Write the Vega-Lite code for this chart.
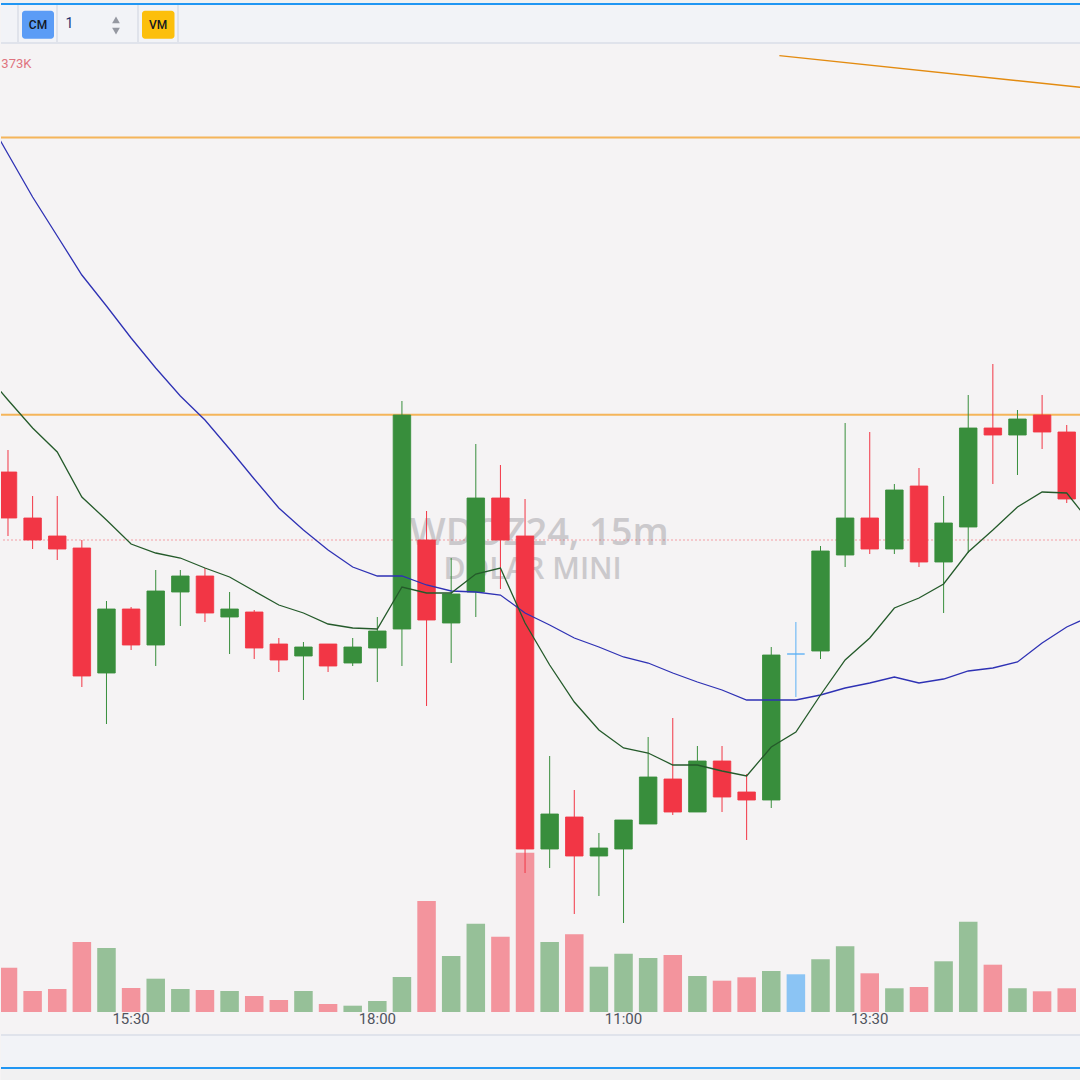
{
  "$schema": "https://vega.github.io/schema/vega-lite/v6.json",
  "padding": 0,
  "spacing": 0,
  "bounds": "flush",
  "background": "#f5f3f4",
  "config": {"view": {"stroke": null}, "concat": {"spacing": 0}, "scale": {"continuousPadding": 0}},
  "datasets": {
    "candles": [
      {"i":0,"o":5857.2,"h":5859.4,"l":5850.8,"c":5852.6,"v":44300},
      {"i":1,"o":5852.6,"h":5854.8,"l":5849.5,"c":5850.4,"v":21000},
      {"i":2,"o":5850.8,"h":5854.8,"l":5848.4,"c":5849.5,"v":23000},
      {"i":3,"o":5849.6,"h":5850.4,"l":5835.7,"c":5836.8,"v":70000},
      {"i":4,"o":5837.1,"h":5844.3,"l":5832.0,"c":5843.5,"v":64000},
      {"i":5,"o":5843.5,"h":5843.7,"l":5839.4,"c":5839.9,"v":24000},
      {"i":6,"o":5839.9,"h":5847.4,"l":5837.8,"c":5845.3,"v":33300},
      {"i":7,"o":5845.2,"h":5847.4,"l":5841.8,"c":5846.8,"v":23000},
      {"i":8,"o":5846.8,"h":5847.6,"l":5842.2,"c":5843.1,"v":22000},
      {"i":9,"o":5842.7,"h":5845.2,"l":5839.0,"c":5843.5,"v":21000},
      {"i":10,"o":5843.2,"h":5843.4,"l":5838.5,"c":5839.6,"v":16000},
      {"i":11,"o":5840.0,"h":5840.6,"l":5837.2,"c":5838.4,"v":12000},
      {"i":12,"o":5838.8,"h":5840.2,"l":5834.4,"c":5839.7,"v":21000},
      {"i":13,"o":5840.0,"h":5840.0,"l":5837.2,"c":5837.8,"v":8000},
      {"i":14,"o":5838.1,"h":5840.6,"l":5837.8,"c":5839.7,"v":6300},
      {"i":15,"o":5839.6,"h":5842.7,"l":5836.2,"c":5841.3,"v":11000},
      {"i":16,"o":5841.5,"h":5864.3,"l":5837.8,"c":5862.9,"v":35000},
      {"i":17,"o":5850.4,"h":5853.3,"l":5833.8,"c":5842.4,"v":111000},
      {"i":18,"o":5842.1,"h":5848.6,"l":5838.1,"c":5845.0,"v":56000},
      {"i":19,"o":5845.2,"h":5860.0,"l":5842.7,"c":5854.6,"v":88300},
      {"i":20,"o":5854.6,"h":5857.9,"l":5845.5,"c":5850.4,"v":75300},
      {"i":21,"o":5850.8,"h":5854.5,"l":5817.1,"c":5819.5,"v":159300},
      {"i":22,"o":5819.5,"h":5828.8,"l":5817.6,"c":5823.0,"v":70000},
      {"i":23,"o":5822.7,"h":5825.4,"l":5813.0,"c":5818.8,"v":77700},
      {"i":24,"o":5818.8,"h":5821.1,"l":5814.8,"c":5819.6,"v":45300},
      {"i":25,"o":5819.5,"h":5822.4,"l":5812.1,"c":5822.4,"v":58300},
      {"i":26,"o":5822.0,"h":5830.7,"l":5822.0,"c":5826.7,"v":54000},
      {"i":27,"o":5826.5,"h":5832.6,"l":5822.9,"c":5823.2,"v":57000},
      {"i":28,"o":5823.2,"h":5829.8,"l":5823.2,"c":5828.3,"v":36000},
      {"i":29,"o":5828.3,"h":5829.8,"l":5823.2,"c":5824.7,"v":31300},
      {"i":30,"o":5825.2,"h":5827.0,"l":5820.4,"c":5824.4,"v":34700},
      {"i":31,"o":5824.4,"h":5839.7,"l":5823.6,"c":5838.9,"v":41000},
      {"i":32,"o":5839.0,"h":5842.2,"l":5834.7,"c":5839.0,"v":37700},
      {"i":33,"o":5839.3,"h":5849.8,"l":5838.5,"c":5849.3,"v":52700},
      {"i":34,"o":5848.9,"h":5862.1,"l":5847.7,"c":5852.6,"v":65700},
      {"i":35,"o":5852.6,"h":5861.2,"l":5849.0,"c":5849.5,"v":38700},
      {"i":36,"o":5849.5,"h":5856.0,"l":5849.0,"c":5855.4,"v":23700},
      {"i":37,"o":5855.8,"h":5857.6,"l":5847.7,"c":5848.2,"v":25000},
      {"i":38,"o":5848.2,"h":5854.8,"l":5843.1,"c":5852.1,"v":50700},
      {"i":39,"o":5851.7,"h":5864.9,"l":5849.1,"c":5861.6,"v":90300},
      {"i":40,"o":5861.6,"h":5868.0,"l":5856.0,"c":5860.9,"v":47300},
      {"i":41,"o":5860.9,"h":5863.4,"l":5856.9,"c":5862.5,"v":23700},
      {"i":42,"o":5862.9,"h":5864.9,"l":5859.5,"c":5861.2,"v":20700},
      {"i":43,"o":5861.2,"h":5861.9,"l":5854.1,"c":5854.5,"v":23700}
    ],
    "ma": [
      {"i":-1,"f":5867.3,"s":5893.3},{"i":0,"f":5864.4,"s":5889.0},{"i":1,"f":5861.6,"s":5884.7},
      {"i":2,"f":5859.2,"s":5880.8},{"i":3,"f":5854.7,"s":5876.9},{"i":4,"f":5852.4,"s":5873.8},
      {"i":5,"f":5850.0,"s":5870.6},{"i":6,"f":5849.1,"s":5867.6},{"i":7,"f":5848.6,"s":5864.8},
      {"i":8,"f":5847.6,"s":5862.4},{"i":9,"f":5846.7,"s":5859.5},{"i":10,"f":5845.3,"s":5856.5},
      {"i":11,"f":5843.9,"s":5853.6},{"i":12,"f":5843.1,"s":5851.4},{"i":13,"f":5842.0,"s":5849.4},
      {"i":14,"f":5841.6,"s":5847.7},{"i":15,"f":5841.5,"s":5846.8},{"i":16,"f":5845.7,"s":5846.8},
      {"i":17,"f":5845.1,"s":5845.9},{"i":18,"f":5845.1,"s":5845.3},{"i":19,"f":5847.0,"s":5845.2},
      {"i":20,"f":5847.6,"s":5844.9},{"i":21,"f":5842.1,"s":5843.1},{"i":22,"f":5837.9,"s":5841.9},
      {"i":23,"f":5834.2,"s":5840.6},{"i":24,"f":5831.4,"s":5839.7},{"i":25,"f":5829.6,"s":5838.7},
      {"i":26,"f":5829.1,"s":5838.1},{"i":27,"f":5827.9,"s":5837.1},{"i":28,"f":5827.9,"s":5836.2},
      {"i":29,"f":5827.3,"s":5835.4},{"i":30,"f":5826.8,"s":5834.4},{"i":31,"f":5829.7,"s":5834.4},
      {"i":32,"f":5831.2,"s":5834.4},{"i":33,"f":5834.9,"s":5834.9},{"i":34,"f":5838.4,"s":5835.6},
      {"i":35,"f":5840.6,"s":5836.1},{"i":36,"f":5843.6,"s":5836.7},{"i":37,"f":5844.6,"s":5836.1},
      {"i":38,"f":5846.0,"s":5836.5},{"i":39,"f":5849.2,"s":5837.3},{"i":40,"f":5851.4,"s":5837.6},
      {"i":41,"f":5853.7,"s":5838.2},{"i":42,"f":5855.2,"s":5840.1},{"i":43,"f":5855.1,"s":5841.7},
      {"i":44,"f":5852.0,"s":5842.8}
    ],
    "levels": [{"p":5890.65},{"p":5862.93}],
    "lastline": [{"p":5850.4}],
    "trend": [{"i":31.33,"p":5898.83},{"i":45,"p":5895.3}],
    "ticks": [{"i":5,"label":"15:30"},{"i":15,"label":"18:00"},{"i":25,"label":"11:00"},{"i":35,"label":"13:30"}],
    "tbsep": [{"sx":17},{"sx":56},{"sx":137},{"sx":177}],
    "buttons": [
      {"b":"CM","x0":21,"x1":53,"y0":5.7,"y1":33.7,"xc":37,"yc":19.7},
      {"b":"VM","x0":141,"x1":173.5,"y0":5.7,"y1":33.7,"xc":157.2,"yc":19.7}
    ]
  },
  "vconcat": [
    {"width":1080,"height":3,"view":{"fill":"#f1f1f2","stroke":null},"data":{"values":[]},"mark":"rect","encoding":{}},
    {"width":1080,"height":2,"view":{"fill":"#2196f3","stroke":null},"data":{"values":[]},"mark":"rect","encoding":{}},
    {
      "width":1080,"height":37,"view":{"fill":"#f2f3f7","stroke":null},
      "layer":[
        {"data":{"name":"tbsep"},"mark":{"type":"rule","color":"#e0e3eb","strokeWidth":2},
         "encoding":{"x":{"field":"sx","type":"quantitative","scale":{"domain":[0,1080],"nice":false,"zero":false,"padding":0},"axis":null}}},
        {"data":{"name":"buttons"},"mark":{"type":"rect","cornerRadius":3},
         "encoding":{
           "x":{"field":"x0","type":"quantitative","scale":{"domain":[0,1080],"nice":false,"zero":false,"padding":0},"axis":null},
           "x2":{"field":"x1"},
           "y":{"field":"y0","type":"quantitative","scale":{"domain":[0,37],"reverse":true,"nice":false,"zero":false,"padding":0},"axis":null},
           "y2":{"field":"y1"},
           "color":{"field":"b","type":"nominal","scale":{"domain":["CM","VM"],"range":["#5b9cf6","#fcbf0c"]},"legend":null}}},
        {"data":{"name":"buttons"},"mark":{"type":"text","font":"Roboto","fontSize":12,"fontWeight":500,"color":"#131722","align":"center","baseline":"middle"},
         "encoding":{
           "x":{"field":"xc","type":"quantitative","scale":{"domain":[0,1080],"nice":false,"zero":false,"padding":0},"axis":null},
           "y":{"field":"yc","type":"quantitative","scale":{"domain":[0,37],"reverse":true,"nice":false,"zero":false,"padding":0},"axis":null},
           "text":{"field":"b"}}},
        {"data":{"values":[{"t":"1","x":68.5,"y":18.7}]},"mark":{"type":"text","font":"Roboto","fontSize":14,"color":"#1f3272","align":"center","baseline":"middle"},
         "encoding":{
           "x":{"field":"x","type":"quantitative","scale":{"domain":[0,1080],"nice":false,"zero":false,"padding":0},"axis":null},
           "y":{"field":"y","type":"quantitative","scale":{"domain":[0,37],"reverse":true,"nice":false,"zero":false,"padding":0},"axis":null},
           "text":{"field":"t"}}},
        {"data":{"values":[{"x":115,"y":14.8,"s":"triangle-up"},{"x":115,"y":26.2,"s":"triangle-down"}]},
         "mark":{"type":"point","filled":true,"color":"#9598a1","opacity":1,"size":60},
         "encoding":{
           "x":{"field":"x","type":"quantitative","scale":{"domain":[0,1080],"nice":false,"zero":false,"padding":0},"axis":null},
           "y":{"field":"y","type":"quantitative","scale":{"domain":[0,37],"reverse":true,"nice":false,"zero":false,"padding":0},"axis":null},
           "shape":{"field":"s","type":"nominal","scale":null}}}
      ]
    },
    {"width":1080,"height":2,"view":{"fill":"#e0e3eb","stroke":null},"data":{"values":[]},"mark":"rect","encoding":{}},
    {
      "width":1080,"height":968,"view":{"fill":"#f5f3f4","stroke":null},
      "resolve":{"scale":{"y":"independent"}},
      "layer":[
        {"data":{"name":"candles"},"mark":{"type":"bar","width":18.5,"opacity":0.5,"clip":true},
         "encoding":{
           "x":{"field":"i","type":"quantitative","scale":{"domain":[-0.284,43.58],"nice":false,"zero":false,"padding":0},"axis":null},
           "y":{"field":"v","type":"quantitative","scale":{"domain":[0,968000],"nice":false,"zero":true,"padding":0},"axis":null},
           "color":{"condition":[{"test":"datum.c > datum.o","value":"#388e3c"},{"test":"datum.c < datum.o","value":"#f23645"}],"value":"#2196f3"}}},
        {
          "layer":[
            {"data":{"values":[{"i":21.58,"p":5849.9,"t":"WDOZ24, 15m"}]},
             "mark":{"type":"text","font":"Open Sans","fontSize":38,"fontWeight":600,"color":"#cbc9cc","align":"center","baseline":"alphabetic"},
             "encoding":{
               "x":{"field":"i","type":"quantitative","scale":{"domain":[-0.284,43.58],"nice":false,"zero":false,"padding":0},"axis":null},
               "y":{"field":"p","type":"quantitative","scale":{"domain":[5803.2,5900],"nice":false,"zero":false,"padding":0},"axis":null},
               "text":{"field":"t"}}},
            {"data":{"values":[{"i":21.31,"p":5846.5,"t":"DOLAR MINI"}]},
             "mark":{"type":"text","font":"Open Sans","fontSize":30,"fontWeight":600,"color":"#cbc9cc","align":"center","baseline":"alphabetic"},
             "encoding":{
               "x":{"field":"i","type":"quantitative","scale":{"domain":[-0.284,43.58],"nice":false,"zero":false,"padding":0},"axis":null},
               "y":{"field":"p","type":"quantitative","scale":{"domain":[5803.2,5900],"nice":false,"zero":false,"padding":0},"axis":null},
               "text":{"field":"t"}}},
            {"data":{"name":"lastline"},"mark":{"type":"rule","color":"#f23645","opacity":0.45,"strokeWidth":1,"strokeDash":[2,2]},
             "encoding":{"y":{"field":"p","type":"quantitative","scale":{"domain":[5803.2,5900],"nice":false,"zero":false,"padding":0},"axis":null}}},
            {"data":{"name":"levels"},"mark":{"type":"rule","color":"#f5a93e","opacity":0.85,"strokeWidth":2},
             "encoding":{"y":{"field":"p","type":"quantitative","scale":{"domain":[5803.2,5900],"nice":false,"zero":false,"padding":0},"axis":null}}},
            {"data":{"name":"trend"},"mark":{"type":"line","color":"#e38b10","strokeWidth":1.3,"clip":true},
             "encoding":{
               "x":{"field":"i","type":"quantitative","scale":{"domain":[-0.284,43.58],"nice":false,"zero":false,"padding":0},"axis":null},
               "y":{"field":"p","type":"quantitative","scale":{"domain":[5803.2,5900],"nice":false,"zero":false,"padding":0},"axis":null}}},
            {"data":{"name":"candles"},"mark":{"type":"rule","strokeWidth":1,"clip":true},
             "encoding":{
               "x":{"field":"i","type":"quantitative","scale":{"domain":[-0.284,43.58],"nice":false,"zero":false,"padding":0},"axis":null},
               "y":{"field":"l","type":"quantitative","scale":{"domain":[5803.2,5900],"nice":false,"zero":false,"padding":0},"axis":null},
               "y2":{"field":"h"},
               "color":{"condition":[{"test":"datum.c > datum.o","value":"#388e3c"},{"test":"datum.c < datum.o","value":"#f23645"}],"value":"#5aaff5"}}},
            {"data":{"name":"candles"},"mark":{"type":"bar","width":17.5,"strokeWidth":1,"strokeOpacity":0.85,"clip":true},
             "encoding":{
               "x":{"field":"i","type":"quantitative","scale":{"domain":[-0.284,43.58],"nice":false,"zero":false,"padding":0},"axis":null},
               "y":{"field":"o","type":"quantitative","scale":{"domain":[5803.2,5900],"nice":false,"zero":false,"padding":0},"axis":null},
               "y2":{"field":"c"},
               "color":{"condition":[{"test":"datum.c > datum.o","value":"#388e3c"},{"test":"datum.c < datum.o","value":"#f23645"}],"value":"#5aaff5"},
               "stroke":{"condition":[{"test":"datum.c > datum.o","value":"#388e3c"},{"test":"datum.c < datum.o","value":"#f23645"}],"value":"#5aaff5"}}},
            {"data":{"name":"ma"},"mark":{"type":"line","color":"#2e31b4","strokeWidth":1.3,"clip":true},
             "encoding":{
               "x":{"field":"i","type":"quantitative","scale":{"domain":[-0.284,43.58],"nice":false,"zero":false,"padding":0},"axis":null},
               "y":{"field":"s","type":"quantitative","scale":{"domain":[5803.2,5900],"nice":false,"zero":false,"padding":0},"axis":null}}},
            {"data":{"name":"ma"},"mark":{"type":"line","color":"#245a2a","strokeWidth":1.3,"clip":true},
             "encoding":{
               "x":{"field":"i","type":"quantitative","scale":{"domain":[-0.284,43.58],"nice":false,"zero":false,"padding":0},"axis":null},
               "y":{"field":"f","type":"quantitative","scale":{"domain":[5803.2,5900],"nice":false,"zero":false,"padding":0},"axis":null}}},
            {"data":{"values":[{"i":-0.27,"p":5897.57,"t":"373K"}]},
             "mark":{"type":"text","font":"Roboto","fontSize":13,"color":"#e0737f","align":"left","baseline":"alphabetic"},
             "encoding":{
               "x":{"field":"i","type":"quantitative","scale":{"domain":[-0.284,43.58],"nice":false,"zero":false,"padding":0},"axis":null},
               "y":{"field":"p","type":"quantitative","scale":{"domain":[5803.2,5900],"nice":false,"zero":false,"padding":0},"axis":null},
               "text":{"field":"t"}}}
          ]
        }
      ]
    },
    {"width":1080,"height":22,"view":{"fill":"#f5f3f4","stroke":null},"data":{"name":"ticks"},
     "mark":{"type":"text","font":"Roboto","fontSize":15,"color":"#50535e","align":"center","baseline":"middle","dy":-4},
     "encoding":{
       "x":{"field":"i","type":"quantitative","scale":{"domain":[-0.284,43.58],"nice":false,"zero":false,"padding":0},"axis":null},
       "text":{"field":"label"}}},
    {"width":1080,"height":2,"view":{"fill":"#e0e3eb","stroke":null},"data":{"values":[]},"mark":"rect","encoding":{}},
    {"width":1080,"height":31,"view":{"fill":"#f2f3f7","stroke":null},"data":{"values":[]},"mark":"rect","encoding":{}},
    {"width":1080,"height":2,"view":{"fill":"#2196f3","stroke":null},"data":{"values":[]},"mark":"rect","encoding":{}},
    {"width":1080,"height":11,"view":{"fill":"#f1f1f2","stroke":null},"data":{"values":[]},"mark":"rect","encoding":{}}
  ]
}
